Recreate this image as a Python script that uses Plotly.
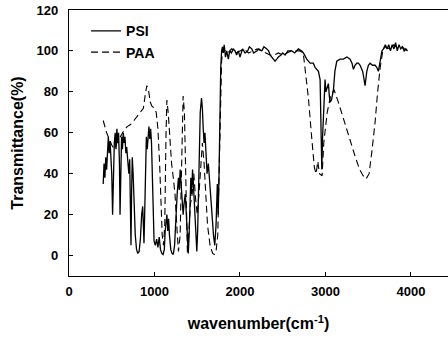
import plotly.graph_objects as go

# PSI (solid) spectrum: wavenumber (cm-1) and transmittance (%)
psi_wn = [400, 410, 420, 430, 440, 450, 460, 470, 480, 490, 500, 510, 520, 530, 540, 550, 560, 570, 580, 590,
          597, 605, 615, 625, 635, 645, 655, 665, 675, 690, 700, 710, 718, 725, 732, 740, 750, 760, 775, 790,
          805, 820, 835, 850, 862, 870, 877, 885, 895, 905, 915, 925, 935, 945, 955, 965, 975, 985, 995, 1010,
          1025, 1040, 1055, 1070, 1085, 1100, 1115, 1125, 1135, 1145, 1155, 1165, 1175, 1190, 1205, 1220, 1235,
          1250, 1265, 1280, 1290, 1300, 1310, 1320, 1335, 1345, 1360, 1370, 1385, 1395, 1405, 1415, 1425, 1435,
          1445, 1455, 1465, 1475, 1485, 1495, 1505, 1515, 1525, 1535, 1550, 1560, 1570, 1580, 1590, 1600, 1615,
          1630, 1645, 1660, 1675, 1690, 1705, 1720, 1735, 1745, 1755, 1765, 1775, 1785, 1795, 1805, 1815, 1830,
          1845, 1864, 1880, 1900, 1920, 1942, 1960, 1980, 2000, 2030, 2060, 2090, 2110, 2138, 2160, 2196, 2220,
          2255, 2280, 2313, 2335, 2352, 2375, 2395, 2410, 2430, 2449, 2480, 2500, 2527, 2560, 2606, 2640, 2683,
          2722, 2742, 2781, 2820, 2858, 2878, 2898, 2917, 2937, 2947, 2957, 2966, 2976, 2985, 2995, 3005, 3015,
          3034, 3045, 3054, 3070, 3093, 3110, 3132, 3170, 3210, 3250, 3288, 3310, 3327, 3345, 3366, 3385, 3405,
          3435, 3463, 3483, 3502, 3522, 3550, 3580, 3600, 3619, 3639, 3660, 3678, 3700, 3720, 3740, 3760, 3780,
          3800, 3820, 3840, 3860, 3880, 3900, 3920, 3940, 3960]
psi_t = [35, 45, 38, 48, 42, 52, 58, 50, 56, 48, 40, 20, 45, 55, 60, 52, 62, 55, 60, 45,
         20, 50, 58, 52, 60, 55, 58, 50, 53, 45, 40, 47, 15, 5, 30, 48, 40, 25, 10, 3,
         1, 2, 8, 20, 24, 15, 6, 20, 45, 58, 52, 60, 63, 57, 62, 55, 35, 10, 7, 5,
         8, 4, 9, 3, 1, 0.5, 3, 12, 18, 20, 12, 18, 10, 3, 1, 0.5, 5,
         20, 30, 38, 32, 42, 35, 28, 20, 25, 30, 22, 5, 1, 10, 25, 38, 30,
         42, 35, 28, 20, 8, 2, 12, 35, 58, 70, 77, 72, 62, 55, 60, 50, 40,
         45, 35, 28, 20, 10, 5, 15, 35, 20, 40, 70, 92, 100, 102, 99, 103, 97,
         100, 96, 100, 99, 101, 100, 98, 100, 97, 101, 99, 100, 102, 101, 99, 100, 101,
         100, 102, 101, 100, 98, 97, 96, 95, 96, 97, 98, 99, 98, 100, 100, 99, 101,
         100, 99, 96, 94, 94, 92, 91, 90, 86, 68, 42, 58, 71, 80, 86, 80, 82,
         84, 78, 75, 76, 81, 90, 95, 96, 96, 97, 96, 94, 91, 93, 94, 94, 93,
         90, 83, 90, 93, 94, 93, 93, 92, 90, 96, 100, 101, 103, 101, 103, 100, 103,
         101, 104, 100, 103, 101, 102, 100, 101, 100]

# PAA (dashed) spectrum
paa_wn = [400, 420, 440, 470, 500, 530, 560, 600, 640, 680, 720, 760, 800, 840, 870, 890, 910, 930, 950, 970,
          1000, 1020, 1040, 1060, 1075, 1090, 1105, 1120, 1135, 1145, 1160, 1180, 1200, 1220, 1240, 1260, 1280,
          1300, 1320, 1335, 1350, 1370, 1385, 1400, 1420, 1440, 1460, 1480, 1500, 1520, 1540, 1560, 1580, 1600,
          1620, 1650, 1680, 1700, 1720, 1740, 1755, 1770, 1785, 1800, 1830, 1860, 1900, 1950, 2000, 2050, 2100,
          2150, 2200, 2250, 2300, 2350, 2400, 2450, 2500, 2550, 2600, 2650, 2700, 2740, 2760, 2800, 2840, 2870,
          2890, 2910, 2930, 2960, 2980, 3020, 3060, 3100, 3150, 3200, 3250, 3300, 3350, 3400, 3440, 3475, 3510,
          3540, 3580, 3610, 3640, 3670, 3700, 3750, 3800, 3850, 3900, 3950]
paa_t = [66, 63, 60, 57, 54, 52, 55, 58, 61, 63, 64, 66, 68, 70, 72, 78, 83, 81, 75, 73,
         72, 70, 62, 45, 25, 10, 5, 15, 60, 76, 70, 55, 45, 38, 30, 15, 2,
         10, 60, 78, 70, 20, 1, 10, 25, 30, 40, 28, 20, 30, 45, 55, 45, 30,
         15, 5, 1, 0.5, 2, 10, 40, 75, 95, 101, 100, 99, 101, 99, 100, 101, 99,
         100, 101, 100, 99, 98, 98, 99, 98, 99, 100, 100, 100, 99, 92, 77, 57, 43,
         40, 46, 40, 39, 55, 70, 78, 81, 75, 68, 62, 54, 48, 42, 39, 37.5, 40,
         50, 65, 80, 92, 100, 102, 101, 103, 101, 102, 100]

x_ticks = [0, 1000, 2000, 3000, 4000]
y_ticks = [0, 20, 40, 60, 80, 100, 120]

FONT = "Liberation Sans, Arial, sans-serif"

fig = go.Figure()
fig.add_trace(go.Scatter(x=psi_wn, y=psi_t, mode="lines", name="<b>PSI</b>",
                         line=dict(color="black", width=1.3)))
fig.add_trace(go.Scatter(x=paa_wn, y=paa_t, mode="lines", name="<b>PAA</b>",
                         line=dict(color="black", width=1.1, dash="7px,4px")))

fig.update_layout(
    width=448, height=340,
    margin=dict(l=69, r=0, t=10, b=64),
    paper_bgcolor="white", plot_bgcolor="white",
    font=dict(family=FONT, color="black", size=14),
    showlegend=True,
    legend=dict(x=0.045, y=0.98, xanchor="left", yanchor="top",
                bgcolor="rgba(0,0,0,0)", itemwidth=30, tracegroupgap=0,
                font=dict(family=FONT, size=14, color="black")),
)
fig.update_xaxes(
    range=[0, 4433], tickvals=x_ticks, ticktext=[f"<b>{v}</b>" for v in x_ticks],
    showgrid=False, zeroline=False, showline=True, linecolor="black", linewidth=1.2,
    mirror=True, ticks="inside", ticklen=4, tickcolor="black",
    tickfont=dict(family=FONT, size=13), ticklabelstandoff=3,
    title=dict(text="<b>wavenumber(cm<sup>-1</sup>)</b>", font=dict(family=FONT, size=16), standoff=20),
)
fig.update_yaxes(
    range=[-10, 120], tickvals=y_ticks, ticktext=[f"<b>{v}</b>" for v in y_ticks],
    showgrid=False, zeroline=False, showline=True, linecolor="black", linewidth=1.2,
    mirror=False, ticks="inside", ticklen=4, tickcolor="black",
    tickfont=dict(family=FONT, size=13), ticklabelstandoff=7,
    title=dict(text="<b>Transmittance(%)</b>", font=dict(family=FONT, size=16), standoff=8),
)

fig.write_html("out.html", config={"displayModeBar": False})
